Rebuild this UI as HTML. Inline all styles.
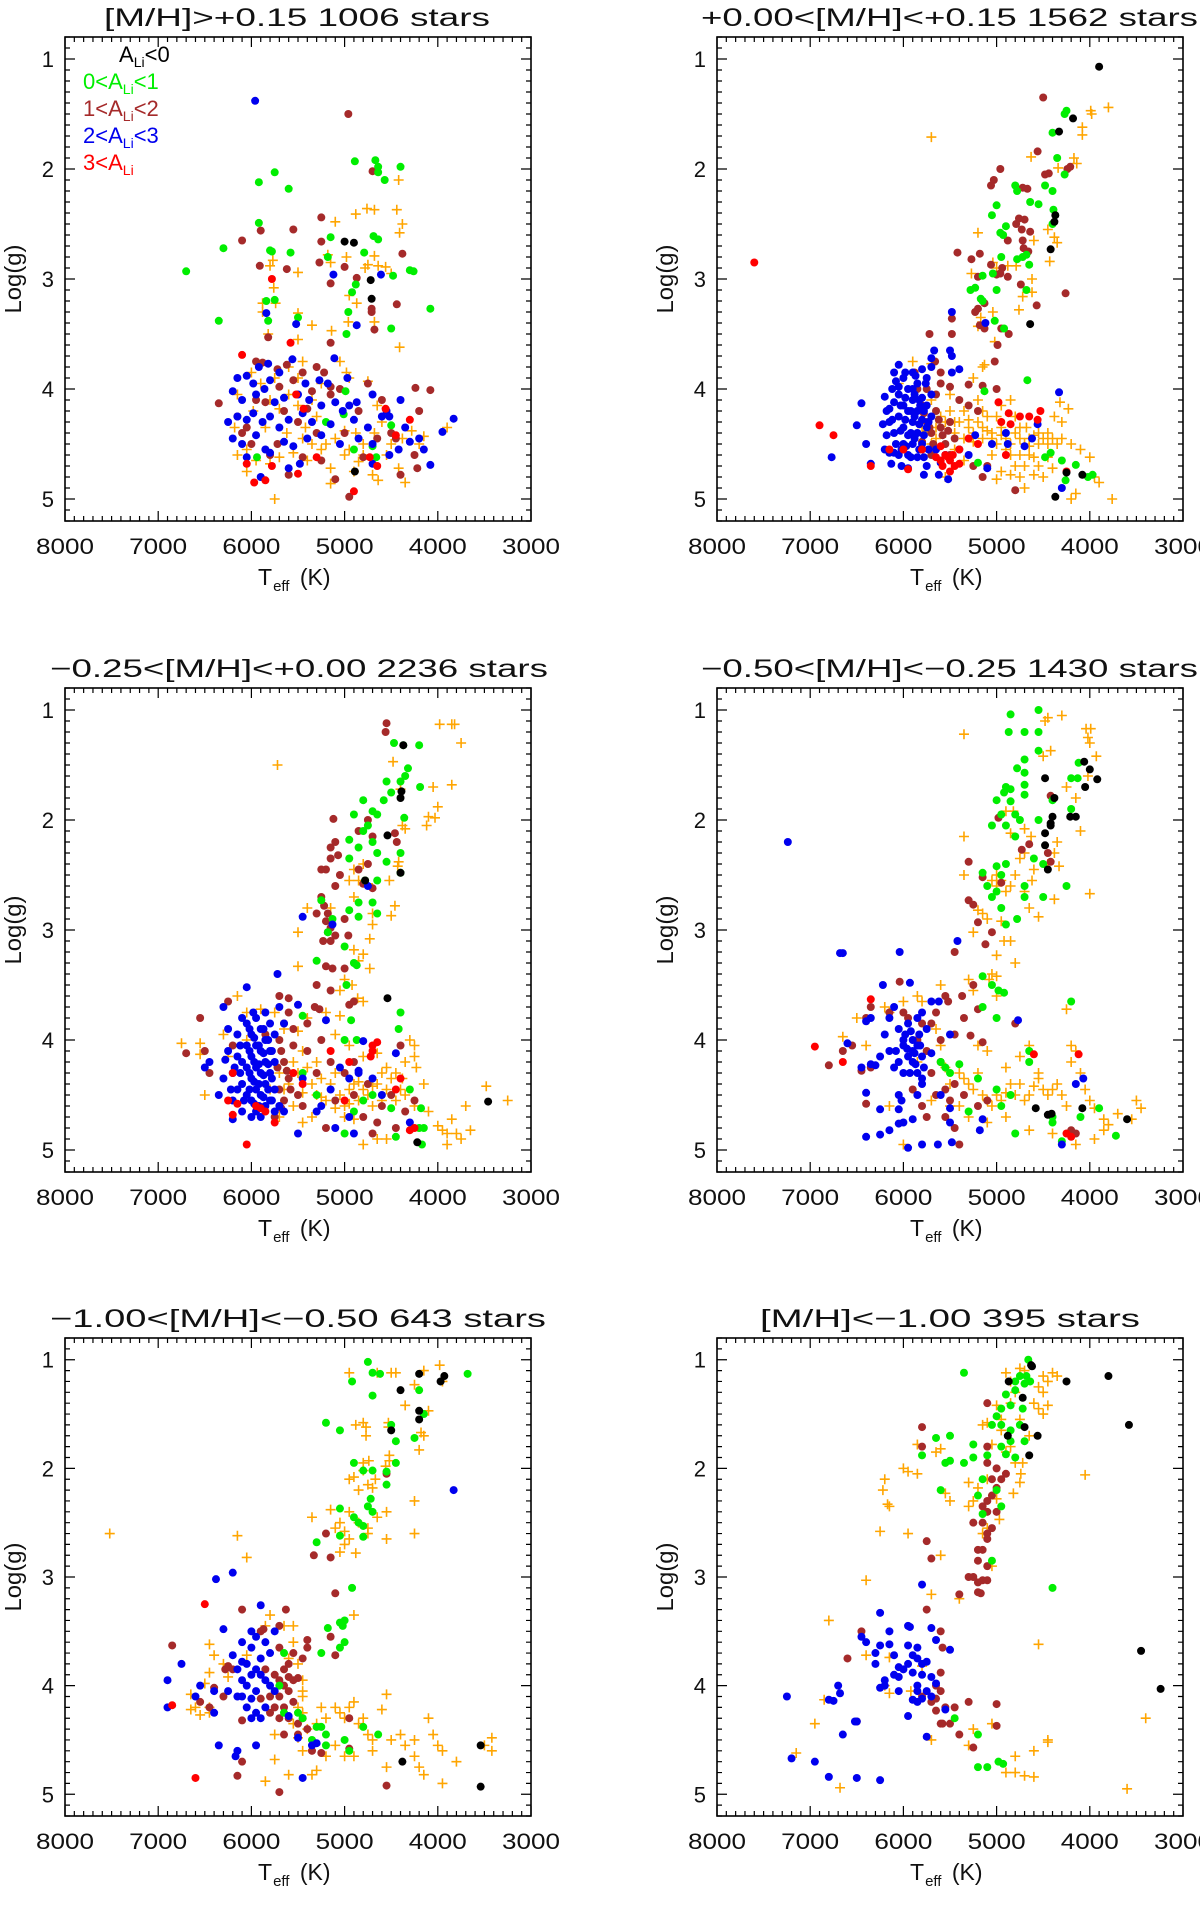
<!DOCTYPE html>
<html><head><meta charset="utf-8">
<style>
html,body{margin:0;padding:0;background:#fff;}
svg{display:block;font-family:"Liberation Sans",sans-serif;}
</style></head>
<body>
<svg id="fig" width="1200" height="1928" viewBox="0 0 1200 1928" xmlns="http://www.w3.org/2000/svg"></svg>
<script>
// ---------- data: [Teff, logg] pairs per panel & class ----------
const p1Orange=[[4760,2.36],[4680,2.37],[4880,2.41],[4440,2.37],[4420,2.1],[4380,2.5],[4410,2.58],[5100,2.48],[5180,2.78],[5150,2.85],[4980,2.8],[4750,2.87],[4680,2.79],[4640,2.88],[4560,2.89],[4500,2.95],[4780,2.9],[5800,2.88],[5770,2.83],[5500,2.94],[5760,3.08],[5880,3.22],[5740,3.22],[5880,3.3],[5500,3.31],[5350,3.42],[5140,3.47],[5500,3.55],[4950,3.15],[4960,3.39],[4870,3.22],[4680,3.39],[4410,3.62],[5820,3.5],[6000,3.85],[5900,3.95],[5750,3.9],[5600,3.8],[5450,3.75],[5500,3.9],[5250,3.95],[5050,3.75],[4980,3.85],[4950,3.9],[4750,3.93],[6150,4.05],[5980,4.2],[5850,4.35],[5700,4.18],[5620,4.4],[5500,4.15],[5420,4.35],[5300,4.25],[5200,4.5],[5100,4.45],[5000,4.38],[4950,4.55],[4880,4.4],[4800,4.5],[4680,4.4],[4600,4.3],[4500,4.5],[4380,4.45],[4280,4.38],[4200,4.5],[3900,4.35],[4150,4.43],[6180,4.35],[6050,4.55],[5950,4.65],[5800,4.68],[5700,4.62],[5550,4.58],[5400,4.65],[5250,4.55],[5150,4.72],[5150,4.86],[5000,4.6],[4850,4.66],[4700,4.78],[4640,4.83],[4420,4.72],[4350,4.85],[5750,5.0],[6050,4.75],[5350,4.5],[5600,4.05],[5350,4.1],[5800,4.1],[4800,4.6],[4900,4.75],[5450,4.45],[6150,4.6],[4550,4.6],[4650,4.15]];
const p1Brown=[[6350,4.13],[6150,4.25],[5950,3.75],[5880,3.76],[5720,3.82],[5620,3.78],[5450,3.85],[5300,3.8],[5220,3.85],[5150,3.98],[5050,4.0],[4600,4.1],[4240,3.99],[4080,4.01],[4200,4.2],[6100,4.4],[6000,4.5],[5850,4.12],[5650,4.2],[5500,4.3],[5400,4.18],[5300,4.4],[5150,4.05],[5000,4.4],[4850,4.2],[4650,4.45],[4500,4.4],[4250,4.6],[4220,4.72],[4400,4.78],[5100,4.82],[4950,4.98],[5600,4.78],[5800,4.6],[6050,4.35],[5720,4.5],[5450,4.62],[5250,4.65],[4800,4.62],[5950,4.1],[5700,3.98],[5550,3.92],[5350,4.02],[4750,3.95],[4450,4.45],[4960,1.5],[4700,2.02],[5250,2.44],[5900,2.56],[5550,2.55],[6100,2.65],[5250,2.66],[5270,2.85],[5910,2.88],[5620,2.91],[5000,2.89],[4870,2.99],[5150,3.04],[4710,3.27],[4710,3.3],[4440,3.23],[4680,3.46],[4380,2.77],[5150,3.58],[5820,3.53]];
const p1Green=[[6700,2.93],[6350,3.38],[6300,2.72],[5920,2.12],[5750,2.03],[5600,2.18],[5920,2.49],[5800,2.74],[5780,2.75],[5580,2.76],[5840,3.2],[5750,3.19],[5820,3.38],[5500,3.35],[5150,2.62],[5180,2.8],[4890,1.93],[4670,1.92],[4640,1.98],[4640,2.03],[4570,2.1],[4400,1.98],[4640,2.64],[4690,2.61],[4790,2.76],[4880,3.05],[4920,3.12],[4960,3.3],[4980,3.5],[4480,2.97],[4300,2.92],[4260,2.93],[4080,3.27],[4500,3.45],[4990,4.02],[5010,4.23],[4900,4.55],[4700,4.52],[4660,4.62],[4500,4.33],[5940,4.62],[5200,4.3]];
const p1Blue=[[5960,1.38],[5840,3.31],[5520,3.41],[5120,2.96],[4870,3.42],[4610,2.96],[5110,3.72],[3830,4.27],[3950,4.39],[4080,4.69],[6050,3.88],[5920,3.8],[5820,3.77],[5700,3.85],[5560,3.73],[5420,3.95],[5270,3.92],[5180,3.95],[4970,3.9],[6150,3.9],[5980,3.95],[5800,3.92],[6200,4.02],[6100,4.1],[5950,4.05],[5860,4.0],[5750,4.12],[5650,4.08],[5500,4.05],[5380,4.1],[5250,4.15],[5100,4.12],[4950,4.15],[4870,4.12],[4700,4.05],[4400,4.1],[4550,4.2],[6250,4.3],[6150,4.25],[6050,4.28],[5980,4.22],[5880,4.3],[5800,4.25],[5700,4.35],[5600,4.28],[5450,4.22],[5350,4.3],[5150,4.32],[5020,4.2],[4900,4.28],[4750,4.35],[4600,4.25],[4520,4.25],[4350,4.35],[4200,4.45],[6200,4.45],[6100,4.5],[5950,4.42],[5850,4.55],[5650,4.48],[5550,4.52],[5400,4.45],[5250,4.42],[5050,4.5],[4850,4.45],[4700,4.5],[4420,4.55],[4150,4.55],[4300,4.48],[6050,4.62],[5800,4.58],[5600,4.72],[5480,4.68],[5900,4.8],[4700,4.68],[4520,4.6]];
const p1Red=[[5780,3.0],[5580,3.58],[6100,3.69],[5520,4.05],[4560,4.18],[4300,4.28],[4730,4.62],[4650,4.7],[5780,4.7],[5970,4.85],[5850,4.83],[5500,4.77],[5300,4.62],[4900,4.93],[6050,4.68],[5440,4.18],[4450,4.42]];
const p1Black=[[5000,2.66],[4900,2.67],[4720,3.01],[4710,3.18],[4890,4.75]];

const p2Orange=[[3800,1.44],[3990,1.47],[3980,1.5],[4080,1.62],[4080,1.69],[4170,1.9],[4140,1.95],[4340,1.99],[4630,1.89],[4450,2.55],[4380,2.62],[4350,2.67],[4430,2.84],[4600,2.65],[4620,3.0],[4720,3.16],[4760,3.28],[4620,3.12],[5040,2.85],[5000,2.9],[4880,2.88],[5200,2.58],[5270,2.95],[5170,3.35],[5200,3.43],[5020,3.57],[5130,3.78],[5700,1.71],[5040,3.3],[4790,2.88],[5800,4.35],[5700,4.5],[5650,4.45],[5600,4.25],[5550,4.3],[5500,4.2],[5450,4.4],[5400,4.3],[5350,4.2],[5300,4.35],[5250,4.4],[5200,4.3],[5150,4.45],[5100,4.38],[5050,4.4],[5000,4.5],[4950,4.42],[4900,4.45],[4850,4.5],[4800,4.4],[4750,4.45],[4700,4.5],[4650,4.45],[4600,4.42],[4550,4.4],[4500,4.45],[4450,4.4],[4400,4.45],[4350,4.5],[4300,4.45],[5200,4.1],[5100,4.25],[5000,4.25],[4950,4.15],[4800,4.25],[4850,4.6],[4800,4.7],[4950,4.75],[5000,4.82],[4750,4.8],[4650,4.6],[4600,4.62],[4550,4.7],[4500,4.8],[4400,4.72],[4200,4.5],[4100,4.55],[4000,4.62],[3950,4.8],[3900,4.85],[4150,4.95],[4200,5.0],[3760,5.0],[4320,4.12],[4300,4.3],[4230,4.18],[5900,3.75],[5700,3.77],[5250,3.9],[5450,4.55],[5350,4.65],[5550,4.8],[5050,4.6],[4700,4.9],[5150,3.8],[6050,3.95],[4850,4.1],[4680,4.35],[4380,4.25],[5700,4.1],[5500,4.05],[5750,4.38],[5650,4.35],[5550,4.4],[5450,4.3],[5350,4.45],[5250,4.48],[5150,4.35],[5050,4.45],[4950,4.35],[4900,4.55],[4750,4.35],[4650,4.52],[4550,4.5],[4450,4.5],[4750,4.6],[4600,4.78],[4700,4.7],[4850,4.78],[4450,4.62],[5300,4.28],[5150,4.2]];
const p2Brown=[[4500,1.35],[4560,1.84],[4480,2.05],[4440,2.04],[4210,1.98],[4240,2.0],[4960,2.0],[5030,2.1],[5060,2.15],[4720,2.17],[4670,2.18],[4760,2.45],[4700,2.46],[4790,2.5],[4730,2.55],[4640,2.57],[4720,2.65],[4660,2.75],[4710,2.72],[4880,2.65],[4940,2.9],[4960,2.95],[5000,2.96],[5060,2.87],[5180,2.77],[5270,2.82],[5420,2.76],[5200,2.98],[5130,3.22],[5200,3.27],[5230,3.3],[5180,3.42],[5130,3.45],[5480,3.36],[5480,3.5],[5720,3.5],[4950,3.45],[4870,3.5],[4990,3.6],[5020,3.75],[4260,3.13],[4570,3.24],[5660,3.75],[5600,3.85],[5300,3.96],[5150,3.97],[5000,4.0],[4880,2.98],[4740,3.05],[5800,4.15],[5750,4.3],[5700,4.4],[5650,4.2],[5600,4.35],[5550,4.5],[5500,4.3],[5450,4.45],[5400,4.1],[5650,4.05],[5600,3.95],[5500,4.6],[5300,4.15],[5200,4.2],[5100,4.7],[5150,4.8],[4800,4.92],[5250,4.7],[5700,4.6],[5800,4.48],[5880,3.85],[5850,4.0],[5750,4.0],[5500,3.98],[5780,4.22],[5720,4.35],[5680,4.5],[5620,4.28],[5580,4.42],[5520,4.38]];
const p2Green=[[4250,1.47],[4270,1.5],[4400,1.67],[4350,1.9],[4270,2.05],[4480,2.15],[4400,2.2],[4550,2.32],[4390,2.37],[4400,2.5],[4640,2.3],[4780,2.2],[4800,2.15],[4900,2.52],[4930,2.6],[4960,2.58],[5000,2.33],[5050,2.42],[4950,2.8],[5040,2.95],[5150,2.97],[5280,3.1],[5230,3.08],[5170,3.18],[5150,3.2],[5000,3.1],[5020,3.38],[4920,3.45],[4780,2.82],[4720,2.8],[4680,2.78],[4650,2.87],[4680,3.1],[4670,3.92],[5130,4.02],[4480,4.62],[4420,4.58],[4300,4.65],[4260,4.83],[4020,4.8],[5200,4.67],[4150,4.69],[3970,4.78]];
const p2Blue=[[6450,4.13],[6500,4.33],[6400,4.5],[6350,4.68],[6770,4.62],[6200,4.55],[6200,4.07],[6180,4.2],[6150,4.3],[6100,4.12],[6100,4.4],[6080,4.5],[6050,4.05],[6050,4.25],[6050,4.6],[6000,4.15],[6000,4.35],[6000,4.5],[5950,4.0],[5950,4.2],[5950,4.42],[5950,4.6],[5900,4.1],[5900,4.3],[5900,4.5],[5850,3.95],[5850,4.2],[5850,4.4],[5850,4.62],[5800,4.08],[5800,4.28],[5800,4.5],[5750,3.9],[5750,4.15],[5750,4.35],[5750,4.7],[5700,4.05],[5700,4.25],[6050,3.78],[6100,3.85],[5900,3.85],[5800,3.82],[5700,3.8],[5500,3.65],[5480,3.7],[5480,3.85],[5400,3.82],[5480,3.3],[5120,3.4],[6000,3.9],[6080,3.93],[5950,4.72],[5780,4.78],[5620,4.78],[5520,4.82],[5600,4.67],[5400,4.55],[5300,4.6],[5100,4.72],[4880,4.5],[4700,4.52],[4560,4.32],[4330,4.03],[4300,4.9],[5050,4.5],[5230,4.42],[6130,4.68],[6150,4.58],[5650,4.55],[6050,3.98],[6120,4.0],[5900,4.0],[5820,4.15],[6020,4.7],[5550,4.6],[4900,4.4],[4620,4.45],[6150,4.18],[6120,4.28],[6100,4.58],[6030,4.15],[6030,4.38],[6020,4.55],[5980,4.08],[5980,4.28],[5970,4.52],[5920,4.2],[5920,4.4],[5920,4.62],[5880,4.05],[5880,4.25],[5880,4.45],[5830,4.1],[5830,4.32],[5830,4.55],[5780,4.2],[5780,4.42],[5780,4.62],[5730,4.3],[5730,4.55],[6180,4.42],[6220,4.32],[5980,3.85],[5870,3.88],[5760,3.95],[5700,3.72],[5670,3.65]];
const p2Red=[[7600,2.85],[6900,4.33],[6750,4.42],[6350,4.7],[6150,4.55],[6000,4.55],[5950,4.73],[5800,4.55],[5650,4.62],[5600,4.65],[5550,4.6],[5500,4.65],[5450,4.7],[5400,4.55],[5300,4.45],[5500,4.75],[5200,4.5],[4950,4.3],[4980,4.12],[4850,4.32],[4870,4.22],[4750,4.25],[4650,4.25],[4530,4.2],[4560,4.28],[4900,4.6],[4250,4.75],[5400,4.68],[5600,4.52],[5520,4.62],[5470,4.6],[5580,4.7]];
const p2Black=[[3900,1.07],[4180,1.54],[4330,1.66],[4370,2.42],[4380,2.48],[4420,2.73],[4640,3.41],[4370,4.98],[4250,4.76],[4080,4.78]];

const p3Orange=[[5720,1.5],[3980,1.13],[3850,1.13],[3820,1.13],[3750,1.3],[4050,1.7],[3850,1.68],[4000,1.88],[4100,1.97],[4030,1.98],[4120,2.05],[4480,1.47],[4400,1.72],[4380,2.05],[4350,2.08],[4430,2.42],[4520,2.55],[4460,2.78],[4500,2.87],[4420,2.38],[4700,2.85],[4700,2.95],[4730,3.08],[4800,3.22],[4850,3.28],[4730,3.35],[4900,3.18],[5500,3.02],[5500,3.33],[5400,2.8],[4950,2.55],[5150,2.8],[4900,2.45],[4850,2.55],[4900,2.7],[4750,2.58],[4800,2.4],[5000,3.45],[4920,3.5],[4860,3.62],[4800,3.65],[5050,3.55],[6750,4.03],[6550,4.03],[6550,4.13],[6500,4.5],[6300,3.95],[6150,3.6],[6050,3.75],[5900,3.72],[5750,3.75],[5650,3.9],[5550,4.2],[5500,4.3],[5450,4.1],[5400,4.25],[5350,4.4],[5300,4.5],[5250,4.35],[5200,4.55],[5150,4.4],[5100,4.3],[5050,4.5],[5000,4.6],[4950,4.45],[4900,4.4],[4850,4.55],[4800,4.45],[4750,4.5],[4700,4.6],[4650,4.4],[4600,4.55],[4550,4.45],[4500,4.35],[4450,4.3],[4400,4.45],[4350,4.2],[4250,4.05],[4300,4.0],[4250,4.15],[4230,4.25],[4150,4.4],[4250,4.6],[4100,4.65],[4000,4.78],[3950,4.82],[3900,4.85],[3850,4.72],[3800,4.85],[3750,4.9],[3700,4.6],[3650,4.82],[3480,4.42],[3250,4.55],[3900,4.95],[4550,4.9],[4650,4.9],[4800,4.95],[4550,4.25],[4650,4.12],[4800,4.15],[4950,4.05],[5100,3.95],[5400,3.8],[5200,3.75],[5050,3.78],[5500,3.92],[5650,4.45],[5550,4.6],[5450,4.75],[5350,4.7],[5700,4.7],[5800,4.45],[5700,4.3],[5600,4.4],[5000,4.7],[4900,4.72],[5300,4.2],[6050,4.0],[6250,4.15],[5450,4.48],[5250,4.52],[5100,4.62],[4950,4.58],[4850,4.38],[4700,4.42],[4600,4.3],[4450,4.55],[4350,4.5],[4380,4.35]];
const p3Brown=[[4550,1.12],[4560,1.2],[4460,2.12],[4440,2.2],[5120,1.99],[4750,2.0],[4850,2.1],[4700,2.15],[5100,2.2],[5150,2.25],[5070,2.32],[5150,2.35],[5200,2.45],[5250,2.45],[5050,2.5],[5100,2.6],[4850,2.45],[4750,2.4],[4700,2.62],[5250,2.7],[5220,2.78],[5180,2.85],[5200,2.92],[5150,2.98],[5180,3.02],[5150,3.1],[5230,3.1],[5100,3.05],[5300,2.85],[5000,2.9],[4960,3.05],[5000,3.35],[5200,3.33],[5130,3.35],[5150,3.55],[5300,3.5],[5320,3.7],[5270,3.72],[5600,3.62],[5700,3.6],[4950,3.68],[4900,3.65],[4800,2.58],[6550,3.8],[6700,4.12],[6500,4.1],[6450,4.3],[6250,3.65],[5700,4.0],[5650,4.2],[5600,4.35],[5550,4.05],[5500,4.5],[5650,4.55],[5700,4.45],[5550,3.9],[5400,4.1],[5250,4.0],[5150,4.2],[5300,4.3],[5000,4.3],[5100,4.55],[4900,4.5],[4800,4.7],[4700,4.85],[4650,4.75],[4600,4.6],[4500,4.5],[4350,4.65],[4250,4.55],[4400,4.05],[4450,4.8],[5750,4.7],[5450,4.6],[5200,4.8],[4900,4.2],[4750,4.4],[5600,3.75],[5650,3.85],[5850,3.95],[6200,4.05],[5400,3.85],[5680,4.1],[5620,4.28],[5580,4.45],[5720,4.25],[5680,4.62]];
const p3Green=[[4470,1.3],[4370,1.32],[4200,1.32],[4320,1.53],[4350,1.6],[4400,1.65],[4190,1.7],[4500,1.75],[4550,1.65],[4580,1.82],[4800,1.82],[4900,1.95],[4700,1.92],[4650,1.95],[4750,2.05],[4800,2.1],[4700,2.2],[4650,2.3],[4850,2.25],[4950,2.18],[4950,2.35],[4780,2.55],[4650,2.55],[4550,2.38],[4400,2.3],[4360,1.98],[4400,2.48],[4850,2.75],[4950,2.82],[4700,2.75],[4650,2.85],[4850,2.88],[5130,2.9],[5250,2.73],[5180,3.02],[5000,3.15],[4900,3.3],[4870,3.32],[4980,3.5],[5300,3.28],[5450,3.78],[4930,3.82],[4400,3.75],[4420,3.9],[5000,4.0],[4870,4.0],[4800,4.55],[4700,4.5],[4300,4.45],[4200,4.8],[4150,4.8],[4180,4.62],[4500,4.62],[4170,4.95],[4450,4.88],[4900,4.65],[5000,4.85],[5450,4.3],[5300,4.5]];
const p3Blue=[[6300,3.7],[6250,3.9],[6250,4.1],[6200,4.3],[6300,4.35],[6450,4.2],[6500,4.25],[6350,4.5],[6200,4.55],[6150,3.95],[6150,4.15],[6100,4.4],[6100,4.65],[6050,3.85],[6050,4.05],[6050,4.25],[6050,4.5],[6000,3.95],[6000,4.15],[6000,4.35],[6000,4.55],[5950,4.05],[5950,4.25],[5950,4.45],[5950,4.65],[5900,3.9],[5900,4.1],[5900,4.3],[5900,4.5],[5850,4.0],[5850,4.2],[5850,4.4],[5850,4.6],[5800,3.85],[5800,4.1],[5800,4.3],[5800,4.55],[5750,3.95],[5750,4.2],[5750,4.45],[5750,4.65],[5700,3.7],[5700,4.6],[5650,3.85],[5650,4.65],[6100,3.8],[5950,3.8],[5850,3.75],[6050,3.52],[5720,3.4],[5500,4.85],[5300,4.65],[5150,4.45],[5050,4.25],[4950,4.35],[4850,4.3],[4800,4.01],[4700,4.35],[4600,4.5],[4450,4.12],[4300,4.75],[5450,4.35],[5250,4.6],[5100,4.8],[5500,3.68],[5200,3.82],[5130,2.95],[5450,2.88],[4750,2.6],[4900,4.85],[4850,4.28],[4950,4.7],[6200,4.72],[6000,4.7],[5900,4.7],[6100,4.2],[6150,4.45],[5980,3.75],[6120,4.05],[6120,4.3],[6080,4.55],[6020,3.9],[6020,4.1],[6020,4.3],[6020,4.45],[5970,3.98],[5970,4.2],[5970,4.38],[5970,4.58],[5920,4.05],[5920,4.22],[5920,4.4],[5920,4.6],[5870,3.9],[5870,4.12],[5870,4.32],[5870,4.52],[5820,4.0],[5820,4.22],[5820,4.45],[5780,4.1],[5780,4.35],[5780,4.55],[6180,4.25],[6220,4.45],[6280,4.18]];
const p3Red=[[6200,4.3],[6250,4.55],[6150,4.58],[6200,4.68],[6050,4.95],[5950,4.6],[5900,4.62],[5850,4.65],[5750,4.75],[5550,4.3],[5450,4.4],[5150,4.1],[4950,4.2],[4700,4.05],[4700,4.1],[4650,4.02],[4720,4.15],[4400,4.35],[4450,4.45],[4250,4.8],[4300,4.82],[5000,4.55]];
const p3Black=[[4370,1.32],[4390,1.74],[4400,1.8],[4540,2.14],[4400,2.48],[4780,2.55],[4540,3.62],[3460,4.56],[4220,4.93]];

const p4Orange=[[5350,1.22],[4300,1.05],[4450,1.07],[4480,1.1],[4040,1.17],[3990,1.17],[4020,1.25],[4000,1.3],[3930,1.42],[4420,1.37],[4500,1.42],[4150,1.8],[4250,1.7],[4020,1.6],[4100,2.1],[4350,2.2],[4380,2.3],[4330,2.42],[4700,2.08],[4850,2.12],[4900,1.92],[4820,1.92],[4630,2.15],[4700,2.3],[4750,2.35],[4600,2.45],[4620,2.55],[4800,2.5],[4950,2.55],[5000,2.5],[4850,2.6],[4900,2.65],[5000,2.6],[5050,2.55],[4700,2.65],[4650,2.8],[4550,2.88],[4000,2.67],[4380,2.72],[5200,2.82],[5150,2.85],[5250,3.02],[5100,2.9],[4950,2.92],[4920,3.1],[4850,3.1],[4800,3.3],[5000,3.23],[5050,3.4],[5080,3.45],[5000,3.6],[5300,3.45],[5250,3.55],[5350,2.5],[5350,2.15],[4450,2.4],[4250,3.72],[5000,3.42],[5600,3.5],[5850,3.6],[5800,3.65],[6200,3.7],[6150,3.75],[6000,3.65],[6500,3.8],[6650,3.97],[6400,4.05],[5650,3.9],[5600,4.05],[5550,4.25],[5500,4.4],[5400,4.3],[5350,4.35],[5300,4.4],[5250,4.45],[5200,4.3],[5150,4.5],[5100,4.55],[5050,4.6],[5000,4.5],[4950,4.55],[4900,4.48],[4850,4.4],[4800,4.5],[4750,4.4],[4700,4.55],[4650,4.5],[4600,4.42],[4550,4.35],[4500,4.45],[4450,4.5],[4400,4.45],[4350,4.4],[4300,4.5],[4250,4.6],[4200,4.2],[4150,4.1],[4200,4.05],[4100,4.3],[4050,4.45],[4000,4.55],[3950,4.62],[3850,4.72],[3800,4.77],[3700,4.67],[3500,4.55],[3450,4.62],[3550,4.72],[3850,4.82],[3950,4.9],[4150,4.95],[4400,4.85],[4650,4.82],[4900,4.7],[5100,4.75],[5300,4.7],[5500,4.6],[5700,4.55],[6000,4.95],[6150,4.6],[5850,4.2],[4650,4.05],[4550,4.3],[4750,4.15],[4900,4.25],[5100,4.1],[5200,4.05],[5400,4.6]];
const p4Brown=[[4980,1.98],[4730,2.27],[4650,2.22],[4450,2.3],[4420,2.38],[4420,1.78],[5300,2.38],[5150,2.52],[4950,2.57],[5300,2.73],[5250,2.77],[5200,2.93],[5050,3.02],[5120,3.13],[5450,3.2],[5250,3.5],[5550,3.6],[5370,3.6],[6040,3.47],[5520,3.65],[4800,3.85],[5280,3.96],[5150,4.02],[5350,3.8],[5200,3.72],[5450,3.95],[5600,4.0],[6350,3.7],[6400,3.8],[6550,4.05],[6650,4.1],[6800,4.23],[6350,4.25],[6450,4.28],[6400,4.58],[5800,3.85],[5750,4.1],[5700,4.3],[5650,4.5],[5600,4.2],[5550,4.45],[5500,4.55],[5450,4.4],[5350,4.5],[5200,4.6],[5100,4.55],[5800,4.6],[5750,4.7],[5550,4.7],[5450,4.8],[4150,4.85],[4200,4.82],[5400,4.95],[6150,3.75],[5950,3.8],[5850,4.0],[5700,3.85],[5650,3.75],[5900,4.45],[6000,3.75]];
const p4Green=[[4850,1.04],[4550,1.0],[4870,1.2],[4700,1.2],[4550,1.2],[4550,1.37],[4700,1.45],[4780,1.53],[4700,1.57],[4900,1.7],[4850,1.72],[4700,1.68],[4700,1.77],[4920,1.75],[4850,1.83],[5000,1.82],[4950,1.95],[4900,2.05],[4800,1.95],[4750,2.0],[5050,2.05],[4800,2.15],[4900,2.4],[5000,2.42],[4950,2.5],[5150,2.48],[5100,2.6],[5050,2.7],[5000,2.65],[4950,2.8],[4900,2.95],[4780,2.9],[4700,2.7],[4700,2.6],[4600,2.35],[4500,2.4],[4500,2.7],[4250,2.6],[4200,1.9],[4200,1.62],[4120,1.48],[4130,1.62],[4400,1.82],[4550,2.0],[5150,3.42],[5050,3.5],[4980,3.55],[4920,3.57],[5150,3.7],[5000,3.8],[4200,3.65],[4650,4.1],[4650,4.2],[5000,4.45],[4850,4.5],[4950,4.6],[4800,4.85],[4400,4.7],[4400,4.75],[4300,4.92],[4100,4.7],[3900,4.62],[3720,4.87],[5500,4.3],[5550,4.25],[5200,4.35],[5300,4.65],[5600,4.2],[5400,4.22]];
const p4Blue=[[7240,2.2],[6680,3.21],[6650,3.21],[6040,3.2],[5420,3.1],[6220,3.5],[5930,3.48],[6600,4.03],[6400,3.83],[6350,3.8],[6200,3.95],[6150,3.8],[6100,3.7],[6050,3.9],[6000,4.05],[5950,3.85],[5900,4.0],[5850,3.8],[5800,3.75],[5750,3.9],[5700,3.65],[6150,4.1],[6100,4.25],[6050,4.2],[6000,4.3],[5950,4.15],[5900,4.2],[5850,4.3],[5800,4.4],[5900,4.1],[5850,4.05],[5800,4.15],[6000,4.0],[6250,4.15],[6350,4.22],[6450,4.25],[6300,4.23],[5850,4.5],[5800,4.35],[6400,4.48],[6250,4.63],[6050,4.5],[6020,4.55],[6050,4.63],[6000,4.75],[6050,4.76],[6150,4.82],[6250,4.86],[6400,4.88],[5900,4.72],[5950,4.98],[5800,4.95],[5630,4.95],[5480,4.93],[5500,4.75],[5500,4.62],[5600,4.5],[5150,4.72],[5180,4.82],[4770,3.82],[4070,4.35],[4150,4.4],[4300,4.95],[5700,4.12],[5500,3.95],[5620,3.65],[5920,3.92],[5880,4.12],[5870,4.22],[5830,3.95],[5930,4.3],[5980,3.95],[5780,4.25],[5820,4.05],[6080,4.1],[5960,4.08]];
const p4Red=[[6350,3.63],[6950,4.06],[6650,4.2],[4600,4.13],[4120,4.13],[4200,4.88],[4250,4.85]];
const p4Black=[[4060,1.47],[4000,1.54],[3920,1.63],[4050,1.7],[4480,1.62],[4380,1.8],[4400,1.97],[4420,2.03],[4420,2.05],[4480,2.12],[4480,2.23],[4450,2.45],[4210,1.97],[4150,1.97],[4580,4.62],[4450,4.68],[4410,4.67],[4080,4.62],[3600,4.72]];

const p5Orange=[[7520,2.6],[6150,2.62],[6050,2.82],[4950,1.12],[4650,1.12],[4500,1.12],[4450,1.12],[4250,1.23],[4150,1.1],[3980,1.05],[3950,1.2],[4350,1.42],[4530,1.58],[4530,1.62],[4800,1.58],[4770,1.62],[4770,1.7],[4880,1.6],[4100,1.47],[4180,1.67],[4150,1.7],[4200,1.83],[4520,1.88],[4520,1.93],[4560,1.98],[4800,1.95],[4740,1.93],[4800,2.02],[4750,2.15],[4670,2.1],[4700,2.18],[4850,2.2],[4950,2.1],[4900,2.08],[4650,2.45],[4750,2.55],[4750,2.6],[4850,2.5],[4880,2.78],[4950,2.65],[5000,2.7],[5050,2.77],[5100,2.55],[5050,2.5],[5000,2.58],[5150,2.38],[5350,2.45],[4950,2.4],[4550,2.4],[4550,2.65],[4250,2.3],[4250,2.6],[4900,3.35],[5550,3.45],[5650,3.45],[5800,3.35],[5850,3.45],[5550,3.6],[5500,3.8],[5450,3.95],[5450,4.05],[5450,4.1],[5500,4.2],[5600,3.75],[6450,3.62],[6400,3.72],[6300,3.8],[6250,3.92],[6050,3.72],[6450,3.88],[6500,3.98],[6650,4.08],[6650,4.22],[6450,4.25],[6450,4.2],[5750,4.45],[5550,4.35],[5450,4.25],[5400,4.4],[5300,4.35],[5250,4.2],[5200,4.3],[5100,4.2],[5050,4.25],[5000,4.3],[4950,4.2],[4900,4.15],[4850,4.35],[4800,4.3],[4750,4.45],[4700,4.5],[4600,4.22],[4550,4.08],[4500,4.5],[4400,4.45],[4350,4.55],[4250,4.5],[4250,4.65],[4200,4.75],[4150,4.82],[4100,4.3],[4050,4.45],[4000,4.55],[3950,4.6],[3800,4.7],[3500,4.55],[3420,4.48],[3420,4.6],[3950,4.9],[4550,4.75],[4700,4.6],[4900,4.65],[5000,4.65],[5100,4.55],[5200,4.65],[5300,4.78],[5350,4.82],[5600,4.82],[5750,4.68],[5850,4.88],[5500,4.48],[5450,4.6],[6550,4.27],[6600,4.2]];
const p5Brown=[[6100,3.3],[5630,3.3],[5700,3.45],[5900,3.5],[5870,3.48],[5700,3.65],[5600,3.8],[5550,3.7],[5450,3.75],[5400,3.58],[5400,3.65],[5650,3.85],[5700,3.95],[5650,4.0],[5600,4.05],[5700,4.1],[5750,4.2],[5650,4.2],[5550,4.15],[5800,4.1],[5750,3.9],[5700,4.3],[5600,4.3],[5500,4.35],[5450,4.3],[5550,3.95],[5600,3.92],[5500,3.93],[5900,4.12],[5850,3.85],[5800,4.25],[5650,4.45],[5500,4.45],[5400,4.4],[5350,4.6],[5250,4.62],[5150,2.82],[5330,2.8],[5200,2.6],[5100,3.15],[5150,3.55],[5100,3.72],[6850,3.63],[6200,3.85],[6280,3.85],[6250,3.82],[6400,4.02],[6300,4.1],[6550,4.15],[6450,4.2],[6100,4.32],[6100,4.7],[6150,4.83],[5700,4.98],[4950,4.58],[4950,4.3],[4550,4.92],[4550,2.05]];
const p5Green=[[4750,1.02],[4700,1.12],[4620,1.13],[4920,1.2],[4700,1.33],[4200,1.28],[3680,1.13],[4150,1.5],[4250,1.72],[4450,1.75],[4500,1.6],[5200,1.58],[5050,1.65],[4900,1.95],[4800,2.02],[4700,2.02],[4720,2.28],[4750,2.35],[4850,2.5],[4800,2.53],[4800,2.63],[4700,2.4],[4900,2.45],[4550,2.15],[4450,1.95],[4550,2.03],[5050,2.37],[5050,2.62],[5300,2.68],[4920,3.1],[5180,3.47],[5000,3.4],[5050,3.42],[5020,3.45],[5000,3.6],[5050,3.65],[5250,3.7],[4800,4.38],[4640,4.45],[5000,4.5],[4950,4.6],[5200,4.45],[5200,4.55],[5350,4.5],[5300,4.38],[5250,4.38],[5450,4.3],[5500,4.25],[5700,4.0],[5650,3.7],[5650,4.25]];
const p5Blue=[[3830,2.2],[6380,3.02],[6200,2.96],[6300,3.48],[5900,3.26],[6000,3.5],[6100,3.6],[6000,3.65],[5950,3.55],[5850,3.6],[5800,3.7],[6200,3.72],[6100,3.78],[6050,3.8],[5950,3.85],[5900,3.9],[6150,3.85],[6100,3.95],[6050,4.0],[5950,4.05],[5900,3.75],[5850,3.95],[6000,3.9],[6100,4.1],[6050,4.2],[6000,4.12],[5950,4.25],[5900,4.3],[5850,4.2],[5800,4.0],[5750,4.05],[5750,3.5],[6150,4.1],[6000,4.3],[6250,4.05],[6400,4.05],[6550,4.0],[6600,4.1],[6900,3.95],[6900,4.2],[6750,3.8],[6400,4.25],[6350,4.55],[6150,4.6],[6170,4.65],[5950,4.55],[5500,4.48],[5350,4.55],[5450,4.85],[5600,4.28],[5300,4.53]];
const p5Red=[[6500,3.25],[6850,4.18],[6600,4.85]];
const p5Black=[[4200,1.13],[3930,1.15],[3970,1.2],[4400,1.28],[4200,1.47],[4200,1.55],[4500,1.65],[3540,4.55],[4380,4.7],[3540,4.93]];

const p6Orange=[[4900,1.12],[4750,1.08],[4500,1.15],[4450,1.2],[4400,1.12],[4350,1.15],[4550,1.25],[4500,1.3],[4600,1.4],[4550,1.45],[4450,1.42],[4500,1.5],[4800,1.3],[4850,1.4],[4750,1.55],[4850,1.2],[4700,1.1],[4650,1.7],[4950,1.55],[5000,1.42],[5100,1.58],[5050,1.78],[5150,1.6],[4950,1.65],[4850,1.8],[4800,1.95],[4720,1.95],[4740,2.05],[4750,2.13],[4820,2.23],[4900,1.85],[4050,2.06],[5300,2.13],[5200,2.18],[5100,2.1],[5000,2.28],[5250,2.3],[5300,2.35],[4970,2.47],[5100,2.55],[5150,2.6],[5050,2.9],[5400,3.2],[5700,3.16],[5600,2.8],[5550,2.23],[5500,2.3],[5600,1.82],[5650,1.85],[5850,1.78],[5850,2.05],[6000,2.0],[5950,2.03],[6200,2.1],[6220,2.2],[6150,2.35],[6170,2.33],[6250,2.58],[5950,2.6],[6400,3.03],[6800,3.4],[6850,4.13],[6950,4.35],[6400,3.72],[6150,3.74],[6200,4.0],[6150,4.07],[5920,4.05],[5800,3.82],[5700,4.5],[5250,4.4],[5300,4.55],[5050,4.35],[4800,4.65],[4600,4.6],[4450,4.5],[4450,4.52],[4800,4.8],[4700,4.83],[4900,4.8],[4600,4.84],[4550,3.62],[3600,4.95],[3400,4.3],[7150,4.62],[6680,4.94]];
const p6Brown=[[5100,1.4],[5800,1.62],[5800,1.8],[5100,1.8],[5100,1.95],[5000,2.0],[4900,2.05],[4950,2.1],[5050,2.1],[5000,2.18],[5050,2.25],[5100,2.3],[5150,2.35],[5100,2.4],[5000,2.4],[5150,2.5],[5050,2.55],[5100,2.6],[5100,2.65],[5250,2.5],[5200,2.75],[5150,2.75],[5200,2.85],[5100,2.9],[5300,3.0],[5250,3.0],[5200,3.05],[5150,3.03],[5100,3.03],[5200,3.14],[5170,3.15],[5400,3.16],[5750,2.67],[5700,2.83],[5750,3.3],[5600,3.5],[5580,3.65],[5600,3.88],[5650,4.0],[5600,4.05],[5700,4.15],[5800,4.1],[5650,4.23],[5600,4.35],[5450,4.2],[5500,4.35],[5400,4.45],[5300,4.15],[5000,4.17],[5000,4.37],[5250,4.57],[6450,3.5],[6600,3.75],[6500,4.33],[5550,4.2],[5650,4.12],[5580,4.35]];
const p6Green=[[4660,1.0],[4680,1.15],[4750,1.15],[4640,1.2],[4700,1.22],[4800,1.2],[5350,1.12],[4800,1.28],[4900,1.32],[4850,1.42],[4950,1.45],[5000,1.52],[5050,1.6],[4950,1.6],[4850,1.65],[4750,1.6],[4850,1.75],[4700,1.75],[4950,1.8],[4900,1.87],[4800,1.9],[5100,1.88],[5250,1.9],[5250,1.78],[5500,1.7],[5650,1.72],[5800,1.88],[5500,1.93],[5550,1.95],[5350,1.95],[5150,2.1],[5200,2.25],[5000,2.2],[4950,2.35],[5050,2.85],[5150,2.42],[4400,3.1],[5600,2.2],[5450,4.3],[5200,4.45],[5200,4.75],[5100,4.75],[4980,4.7],[4930,4.72],[4720,1.45]];
const p6Blue=[[5800,3.07],[6250,3.33],[5950,3.45],[5930,3.46],[6150,3.5],[6450,3.55],[6400,3.6],[6250,3.63],[6150,3.62],[5950,3.63],[5850,3.65],[5650,3.58],[5700,3.47],[5500,3.67],[6100,3.72],[5900,3.72],[5850,3.75],[5950,3.8],[5800,3.8],[5750,3.78],[6050,3.83],[6000,3.85],[5900,3.88],[6100,3.9],[5800,3.9],[5700,3.92],[6050,3.92],[6200,3.95],[5850,4.0],[6250,4.02],[6200,4.0],[5850,4.05],[5750,4.05],[6050,4.05],[6700,4.0],[6680,4.07],[6800,4.13],[6750,4.14],[7250,4.1],[5900,4.13],[5800,4.12],[6300,3.7],[6300,3.8],[5950,4.28],[5700,4.1],[5850,4.15],[6520,4.33],[6500,4.33],[6650,4.45],[5750,4.47],[5550,4.22],[7200,4.67],[6950,4.7],[6800,4.84],[6500,4.85],[6250,4.87],[5650,3.98]];
const p6Red=[];
const p6Black=[[4630,1.05],[4620,1.06],[4870,1.2],[4720,1.35],[4250,1.2],[3800,1.15],[3580,1.6],[4700,1.62],[4880,1.7],[4560,1.7],[4650,1.88],[3450,3.68],[3240,4.03]];

const panelTitles=["[M/H]>+0.15 1006 stars","+0.00<[M/H]<+0.15 1562 stars","\u22120.25<[M/H]<+0.00 2236 stars","\u22120.50<[M/H]<\u22120.25 1430 stars","\u22121.00<[M/H]<\u22120.50  643 stars","[M/H]<\u22121.00  395 stars"];
const xTickLabels=["8000","7000","6000","5000","4000","3000"];
const xTickValues=[8000,7000,6000,5000,4000,3000];
const yTickValues=[1,2,3,4,5];

// ---------- layout ----------
const NS="http://www.w3.org/2000/svg";
const svg=document.getElementById('fig');
const cols=[[65,531],[717,1183]];
const rows=[[37,484],[688,484],[1338,478]];
const titleSpan=[[104,490],[701,1198],[50,548],[701,1198],[50,546],[760,1140]];
const series=[
 [p1Orange,p1Brown,p1Green,p1Blue,p1Red,p1Black],
 [p2Orange,p2Brown,p2Green,p2Blue,p2Red,p2Black],
 [p3Orange,p3Brown,p3Green,p3Blue,p3Red,p3Black],
 [p4Orange,p4Brown,p4Green,p4Blue,p4Red,p4Black],
 [p5Orange,p5Brown,p5Green,p5Blue,p5Red,p5Black],
 [p6Orange,p6Brown,p6Green,p6Blue,p6Red,p6Black]];
const cls=['orange','brown','green','blue','red','black'];
const colors={orange:'#ffa500',brown:'#a52a2a',green:'#00ee00',blue:'#0000ee',red:'#ff0000',black:'#000000'};

function mk(tag,attrs,parent){const e=document.createElementNS(NS,tag);for(const k in attrs)e.setAttribute(k,attrs[k]);parent.appendChild(e);return e;}
function addT(parent,txt,attrs){const s=mk('tspan',attrs||{},parent);s.textContent=txt;return s;}

for(let p=0;p<6;p++){
  const [x0,x1]=cols[p%2];const [y0,h]=rows[Math.floor(p/2)];const y1=y0+h;
  const X=t=>x0+(8000-t)/5000*(x1-x0);
  const Y=g=>y0+(g-0.8)/4.4*h;
  const grp=mk('g',{},svg);
  
  
  const ts=titleSpan[p];
  const tt=mk('text',{x:ts[0],y:y0-11,'font-size':25,textLength:ts[1]-ts[0],lengthAdjust:'spacingAndGlyphs','xml:space':'preserve',fill:'#111'},grp);
  tt.textContent=panelTitles[p];
  
  
  const pts=mk('g',{},grp);
  
  
  series[p].forEach((arr,ci)=>{
    const c=cls[ci];
    arr.forEach(([t,g])=>{
      const cx=X(t),cy=Y(g);
      if(c==='orange'){
        const e=mk('path',{d:`M${cx-5} ${cy}H${cx+5}M${cx} ${cy-5}V${cy+5}`,stroke:colors.orange,'stroke-width':1.6,fill:'none'},pts);
        
        
      } else {
        const e=mk('circle',{cx:cx,cy:cy,r:4,fill:colors[c]},pts);
        
        
      }
    });
  });
  const fr=mk('rect',{x:x0,y:y0,width:x1-x0,height:h,fill:'none',stroke:'#000','stroke-width':1.6},grp);
  
  
  let d='';
  for(let t=8000;t>=3000;t-=100){const x=X(t);const L=(t%1000===0)?10:5;d+=`M${x} ${y1}v${-L}M${x} ${y0}v${L}`;}
  for(let k=8;k<=52;k++){const g=k/10;const y=Y(g);const L=(k%10===0)?10:5;d+=`M${x0} ${y}h${L}M${x1} ${y}h${-L}`;}
  const tk=mk('path',{d:d,stroke:'#000','stroke-width':1.2,fill:'none'},grp);
  
  
  xTickValues.forEach((v,i)=>{
    const e=mk('text',{x:X(v)-29,y:y1+33,'font-size':22,textLength:58,lengthAdjust:'spacingAndGlyphs',fill:'#111'},grp);
    e.textContent=xTickLabels[i];
    
    
  });
  yTickValues.forEach(v=>{
    const e=mk('text',{x:x0-11,y:Y(v)+8,'font-size':22,'text-anchor':'end',fill:'#111'},grp);
    e.textContent=String(v);
    
    
  });
  const cx=(x0+x1)/2;
  const xt=mk('text',{x:cx-40,y:y1+64,'font-size':23,fill:'#111','xml:space':'preserve'},grp);
  addT(xt,'T');
  addT(xt,'eff',{'font-size':15,dy:6,dx:1});
  addT(xt,'  (K)',{dy:-6,dx:4});
  
  
  const yc=y0+h/2;
  const yt=mk('text',{x:x0-44,y:yc,'font-size':23,'text-anchor':'middle',textLength:69,lengthAdjust:'spacingAndGlyphs',fill:'#111',transform:`rotate(-90 ${x0-44} ${yc})`},grp);
  yt.textContent='Log(g)';
  
  
}

// legend (panel 1)
const legendPre=['','0<','1<','2<','3<'];
const legendPost=['<0','<1','<2','<3',''];
const legendColors=['#000','#00ee00','#a52a2a','#0000ee','#ff0000'];
const legendX=[119,83,83,83,83];
const legendY=[62,89,116,143,170];
const lg=mk('g',{},svg);


for(let i=0;i<5;i++){
  const e=mk('text',{x:legendX[i],y:legendY[i],'font-size':22,fill:legendColors[i]},lg);
  if(legendPre[i])addT(e,legendPre[i]);
  addT(e,'A');
  addT(e,'Li',{'font-size':14,dy:5});
  addT(e,legendPost[i]||'\u200b',{dy:-5});
  
  
}
</script>
</body></html>
